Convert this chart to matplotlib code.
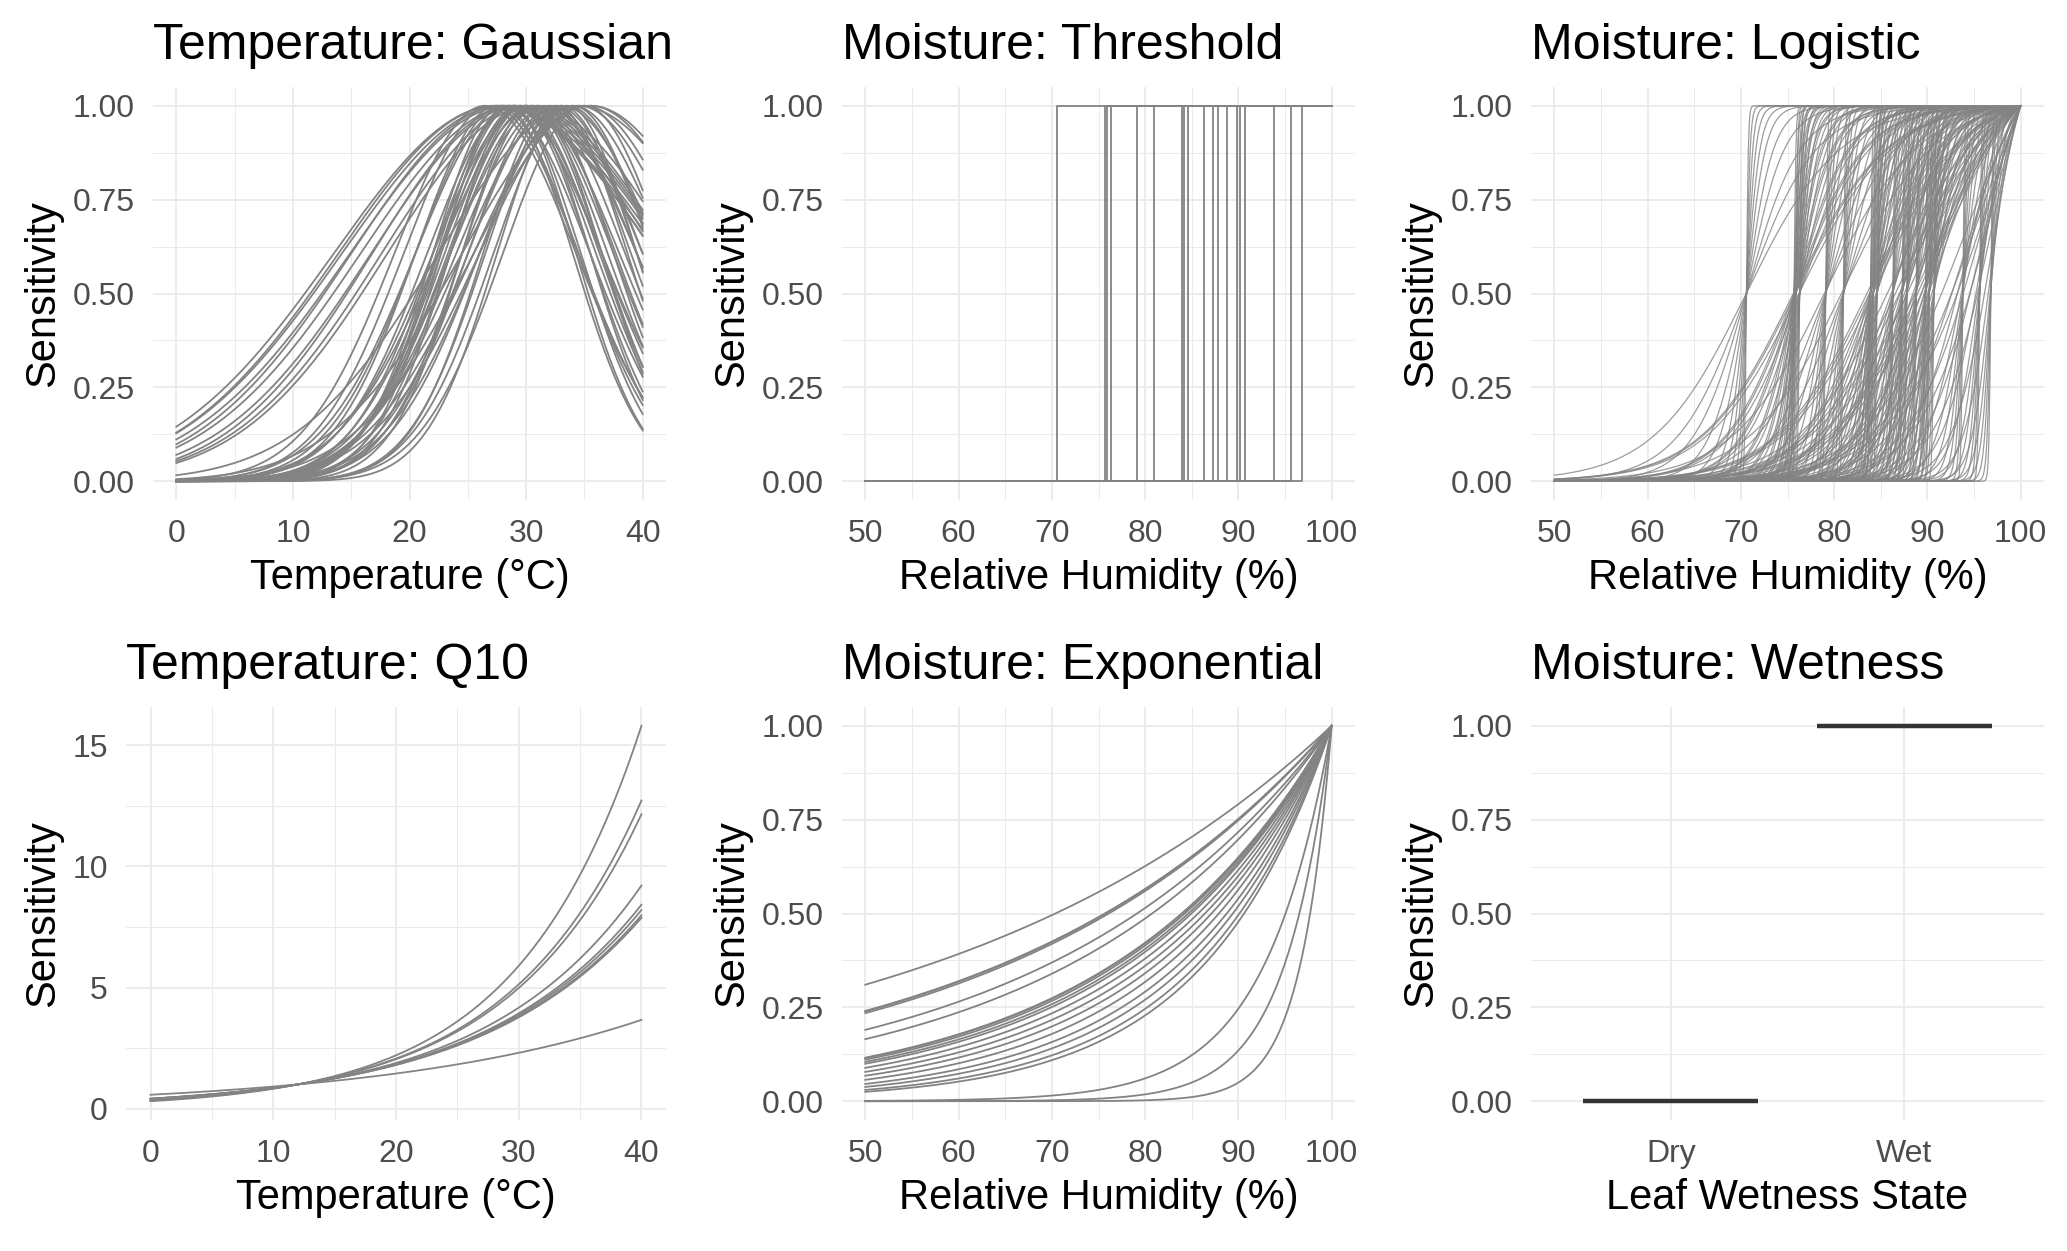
import matplotlib
matplotlib.use("Agg")
import matplotlib.pyplot as plt
import numpy as np
from matplotlib.ticker import FormatStrFormatter

# ---- data ----
# Temperature: Gaussian -> optimum temperature and width of each curve
gauss_opt = [27.5, 27.5, 28.0, 28.5, 28.0, 29.0, 29.5, 29.0, 30.0, 30.5,
             28.0, 28.5, 29.0, 29.0, 29.5, 30.0, 30.0, 30.5, 31.0, 28.0,
             27.5, 27.0, 26.5, 31.5, 32.0, 32.0, 32.5, 33.0, 33.5, 34.0,
             34.5, 35.0, 35.5, 35.5, 34.5, 31.0, 30.5, 29.5, 28.5, 30.0,
             31.0, 28.5, 33.0, 32.5, 34.0, 35.0, 33.5, 29.0, 30.0]
gauss_width = [14.0, 13.6, 13.8, 13.6, 13.0, 13.2, 12.8, 12.2, 12.4, 12.4,
               6.0, 6.2, 6.5, 7.0, 6.8, 7.0, 7.5, 7.2, 7.5, 7.5,
               7.0, 7.5, 7.8, 8.0, 8.0, 7.0, 7.5, 8.5, 7.5, 8.0,
               9.0, 9.0, 10.0, 11.0, 12.0, 6.5, 6.0, 6.0, 5.8, 8.0,
               8.5, 8.0, 6.5, 6.2, 6.8, 7.0, 6.0, 7.5, 6.5]

# Moisture: Threshold -> RH thresholds
rh_thresholds = [70.6, 75.7, 75.9, 76.3, 79.1, 81.0, 83.9, 84.2, 84.6, 86.3,
                 87.3, 87.8, 88.8, 89.8, 90.2, 90.7, 93.8, 95.6, 96.8]

# Moisture: Logistic -> slopes used with each threshold as midpoint
logistic_slopes = [0.2, 0.27, 0.35, 0.5, 0.7, 1.0, 1.4, 2.0, 3.0, 5.0, 10.0]

# Temperature: Q10
q10_values = [2.68, 2.48, 2.44, 2.21, 2.14, 2.12, 2.10, 2.09, 1.59]
q10_tref = 12

# Moisture: Exponential -> decay rates
exp_rates = [0.0234, 0.0285, 0.0286, 0.0290, 0.0332, 0.0360, 0.0431, 0.0433,
             0.0440, 0.0451, 0.0461, 0.0484, 0.0510, 0.0538, 0.0573, 0.0616,
             0.0654, 0.0701, 0.0738, 0.14, 0.20, 0.30]

# Moisture: Wetness
wet_states = ['Dry', 'Wet']
wet_values = [0, 1]

temp = np.linspace(0, 40, 401)
rh = np.linspace(50, 100, 501)

plt.rcParams['font.family'] = ['Liberation Sans', 'DejaVu Sans']

LINE = '#838383'
GRID = '#EBEBEB'

fig = plt.figure(figsize=(20.67, 12.51), dpi=100)
W, H = 2067, 1251


def make_ax(left, right, top, bottom):
    return fig.add_axes([left / W, 1 - bottom / H, (right - left) / W, (bottom - top) / H])


ax1 = make_ax(153, 666, 87, 500)
ax2 = make_ax(842, 1355, 87, 500)
ax3 = make_ax(1531, 2044, 87, 500)
ax4 = make_ax(126, 666, 707, 1120)
ax5 = make_ax(842, 1355, 707, 1120)
ax6 = make_ax(1531, 2044, 707, 1120)


def style(ax, title, xlabel, xmajor, xminor, ymajor, yminor, yfmt='%.2f'):
    ax.set_xticks(xmajor)
    ax.set_xticks(xminor, minor=True)
    ax.set_yticks(ymajor)
    ax.set_yticks(yminor, minor=True)
    ax.yaxis.set_major_formatter(FormatStrFormatter(yfmt))
    ax.set_axisbelow(True)
    ax.grid(which='major', color=GRID, lw=1.3)
    ax.grid(which='minor', color=GRID, lw=0.7)
    ax.tick_params(which='both', length=0, labelsize=23, labelcolor='#4D4D4D')
    ax.tick_params(axis='x', pad=14)
    ax.tick_params(axis='y', pad=13)
    for s in ax.spines.values():
        s.set_visible(False)
    ax.set_title(title, loc='left', fontsize=36, pad=20)
    ax.set_xlabel(xlabel, fontsize=30, labelpad=6)
    ax.set_ylabel('Sensitivity', fontsize=30, labelpad=7)


unit_major = [0, 0.25, 0.5, 0.75, 1.0]
unit_minor = [0.125, 0.375, 0.625, 0.875]
rh_major = [50, 60, 70, 80, 90, 100]
rh_minor = [55, 65, 75, 85, 95]
t_major = [0, 10, 20, 30, 40]
t_minor = [5, 15, 25, 35]

# Gaussian
for topt, w in zip(gauss_opt, gauss_width):
    ax1.plot(temp, np.exp(-0.5 * ((temp - topt) / w) ** 2), color=LINE, lw=1.3)
style(ax1, 'Temperature: Gaussian', 'Temperature (°C)', t_major, t_minor, unit_major, unit_minor)

# Threshold
for thr in rh_thresholds:
    ax2.plot([50, thr, thr, 100], [0, 0, 1, 1], color=LINE, lw=1.3)
style(ax2, 'Moisture: Threshold', 'Relative Humidity (%)', rh_major, rh_minor, unit_major, unit_minor)

# Logistic (normalised to 1 at RH = 100)
for mid in rh_thresholds:
    for k in logistic_slopes:
        f = 1 / (1 + np.exp(-k * (rh - mid)))
        f100 = 1 / (1 + np.exp(-k * (100 - mid)))
        ax3.plot(rh, f / f100, color=LINE, lw=0.9, alpha=0.8)
style(ax3, 'Moisture: Logistic', 'Relative Humidity (%)', rh_major, rh_minor, unit_major, unit_minor)

# Q10
for q in q10_values:
    ax4.plot(temp, q ** ((temp - q10_tref) / 10), color=LINE, lw=1.3)
style(ax4, 'Temperature: Q10', 'Temperature (°C)', t_major, t_minor, [0, 5, 10, 15], [2.5, 7.5, 12.5], '%d')

# Exponential
for r in exp_rates:
    ax5.plot(rh, np.exp(-r * (100 - rh)), color=LINE, lw=1.3)
style(ax5, 'Moisture: Exponential', 'Relative Humidity (%)', rh_major, rh_minor, unit_major, unit_minor)

# Wetness
pos = np.arange(1, len(wet_states) + 1)
ax6.hlines(wet_values, pos - 0.375, pos + 0.375, color='#333333', lw=3.2)
ax6.set_xlim(0.4, 2.6)
style(ax6, 'Moisture: Wetness', 'Leaf Wetness State', pos, [], unit_major, unit_minor)
ax6.set_xticklabels(wet_states)
ax6.set_ylim(-0.05, 1.05)

fig.savefig('out.png', dpi=100, facecolor='white')
